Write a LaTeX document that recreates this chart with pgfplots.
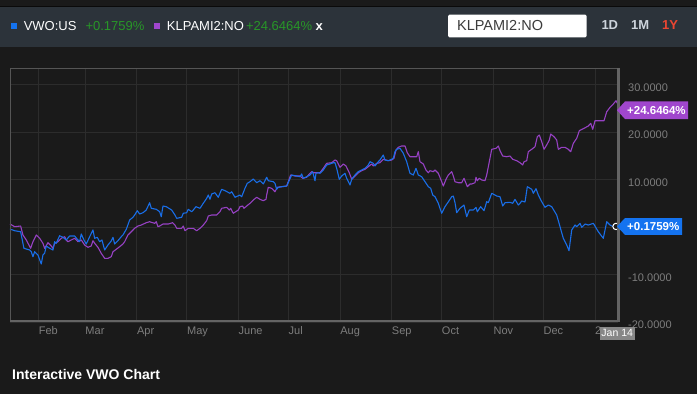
\documentclass[border=0pt]{standalone}
\usepackage{pgfplots}
\pgfplotsset{compat=1.18}
\usepackage{pgfplotstable}
\usepackage{fontspec}
\setmainfont{Liberation Sans}
\definecolor{bg}{RGB}{26,26,26}
\definecolor{barc}{RGB}{44,51,58}
\definecolor{gridc}{RGB}{44,44,44}
\definecolor{tickc}{RGB}{125,125,125}
\definecolor{framec}{RGB}{85,85,85}
\definecolor{botc}{RGB}{100,100,100}
\definecolor{blueline}{RGB}{25,110,232}
\definecolor{purpleline}{RGB}{150,65,195}
\definecolor{bluebox}{RGB}{20,115,240}
\definecolor{purplebox}{RGB}{160,70,205}
\definecolor{greenc}{RGB}{40,150,40}
\definecolor{redc}{RGB}{235,70,50}
\definecolor{btnc}{RGB}{205,212,220}
\definecolor{jangray}{RGB}{135,135,135}
\definecolor{boxtext}{RGB}{60,60,60}

\pgfplotstableread{
day val
13.8 -0.30
14.19 -0.42
16.59 -0.72
20.19 -0.93
22.17 -4.42
25.60 -4.78
26.56 -5.14
27.58 -6.19
28.60 -5.14
30.58 -5.83
32.56 -7.72
33.58 -5.83
34.60 -5.47
35.56 -3.94
37.60 -4.42
39.59 -4.78
40.61 -3.03
41.57 -3.37
43.61 -1.77
45.59 -2.11
47.57 -2.67
49.61 -1.83
52.61 -1.83
54.60 -2.67
55.62 -3.03
56.58 -1.41
58.20 -2.67
59.58 -3.52
61.62 -1.98
63.60 -0.57
64.62 -2.32
66.18 -2.11
67.63 -3.03
69.01 -2.67
70.63 -4.78
72.61 -3.73
74.59 -2.88
75.61 -2.11
76.63 -3.52
78.61 -2.82
80.59 -1.98
81.61 -1.62
83.60 -0.42
85.64 1.54
87.62 2.11
88.64 2.59
90.20 3.49
91.64 2.80
93.62 3.07
95.60 3.64
97.64 5.18
98.61 4.00
101.61 3.79
103.65 3.28
104.61 2.23
105.63 4.48
107.61 4.34
110.85 3.64
112.84 2.59
113.86 1.89
116.86 2.11
117.82 2.95
119.86 3.07
120.82 3.79
122.86 3.28
123.82 3.64
125.44 4.34
127.85 4.00
129.83 5.05
131.87 6.11
132.83 6.80
133.85 5.89
134.87 7.01
136.85 7.28
138.83 6.32
140.87 8.00
142.86 7.71
145.86 7.16
146.88 7.49
148.86 6.32
151.86 6.80
152.88 6.44
154.86 8.21
156.25 9.26
157.87 9.60
159.85 10.17
161.89 9.39
163.87 9.81
165.85 9.12
167.89 10.53
168.85 9.81
171.86 9.60
172.87 9.26
173.90 8.00
174.86 8.42
176.90 8.55
179.90 8.69
182.90 11.01
185.90 10.80
187.89 10.65
188.90 11.22
189.87 10.32
191.91 10.65
193.89 11.01
195.51 11.71
196.89 9.81
197.49 11.37
198.87 11.49
199.89 11.37
201.88 12.06
203.92 13.12
205.89 13.33
207.88 13.60
208.90 13.60
209.92 12.42
211.48 10.11
212.92 10.80
214.90 11.37
215.92 10.32
217.91 8.91
218.93 10.11
220.91 11.01
222.89 11.71
224.93 12.06
226.91 12.42
228.89 13.12
229.91 13.81
231.90 13.47
232.92 12.91
234.90 13.81
235.92 14.17
237.90 15.22
238.92 14.17
240.90 14.02
242.94 14.32
243.90 14.53
244.92 15.92
245.94 16.42
247.93 16.63
249.91 15.58
251.95 13.81
253.93 11.37
255.91 11.01
257.53 12.42
258.92 11.01
260.95 10.65
262.94 9.60
264.92 8.55
266.36 8.21
267.56 6.80
268.94 6.44
270.92 5.05
272.96 2.95
274.94 4.34
277.95 5.89
278.97 6.44
279.93 6.59
280.95 5.18
281.97 3.07
283.95 4.00
286.35 4.69
287.97 2.23
289.54 3.64
291.93 3.64
293.55 4.21
294.33 3.28
296.38 4.34
298.36 3.49
299.98 5.39
300.94 5.18
302.99 7.16
305.98 6.59
307.97 6.44
309.59 4.48
310.97 5.18
313.97 5.26
315.59 5.05
316.97 5.89
318.95 4.69
319.97 5.05
320.99 5.54
322.98 5.33
324.36 8.55
327.00 8.00
327.96 7.16
329.58 8.13
330.96 6.80
333.00 5.39
334.98 4.21
336.97 4.69
339.00 4.34
342.00 2.59
343.99 0.13
345.97 -2.32
348.01 -3.73
349.40 -4.93
351.01 -0.57
352.99 0.48
354.02 0.13
356.00 0.84
357.02 0.00
359.00 0.69
360.98 0.48
363.98 0.84
366.98 -0.93
369.98 -2.32
372.03 1.18
374.01 0.48
375.99 0.13
377.61 0.18
}\vwo

\pgfplotstableread{
day val
13.8 0.70
16.59 0.13
20.19 0.27
21.57 -1.62
23.56 -2.67
26.20 -4.42
27.58 -3.03
29.56 -1.62
31.60 -2.32
33.58 -3.37
34.60 -4.42
36.59 -3.24
38.57 -3.94
39.59 -4.42
40.61 -3.37
42.59 -3.03
44.57 -2.32
46.61 -1.98
47.57 -2.67
48.59 -3.03
50.57 -2.67
52.61 -2.32
54.60 -3.03
56.58 -2.67
58.62 -3.73
60.60 -4.21
62.58 -3.94
63.60 -2.82
64.98 -3.52
66.60 -4.21
68.58 -5.47
70.63 -6.53
72.61 -6.53
74.59 -6.19
75.61 -5.14
77.59 -4.63
79.63 -4.08
81.61 -3.52
82.63 -3.03
84.62 -1.62
86.60 -0.93
88.64 -0.21
90.62 0.27
92.60 0.48
95.60 0.97
97.64 1.18
98.61 1.05
100.65 0.84
101.61 1.18
102.63 0.13
103.65 0.27
105.63 0.69
108.81 0.69
111.45 0.97
112.84 0.48
113.86 -0.21
116.86 -0.21
117.82 0.27
118.84 -0.72
120.82 -0.21
123.82 -0.21
125.86 -0.72
127.85 -0.21
129.83 0.48
131.87 1.39
132.83 2.38
134.87 2.59
137.87 2.59
139.85 3.28
140.87 4.00
143.88 4.21
145.44 3.64
146.28 4.00
147.84 2.95
150.84 3.64
151.86 4.34
153.48 4.48
154.26 4.00
155.88 4.48
157.87 5.05
159.85 5.75
161.89 6.32
163.87 5.89
165.85 5.60
167.47 5.89
167.89 6.80
168.85 8.42
170.89 8.21
172.87 7.49
174.25 8.42
176.90 8.55
179.90 8.69
180.86 9.60
182.30 11.01
184.88 10.80
187.89 10.80
189.51 10.32
191.91 10.53
193.47 11.22
194.91 11.71
195.87 11.49
197.91 11.49
199.89 11.49
201.88 12.42
203.92 13.47
206.92 13.60
208.90 14.17
209.92 14.02
211.90 12.63
213.88 13.33
215.51 12.91
217.48 11.49
218.93 10.11
220.91 10.80
222.89 11.49
224.93 11.92
226.91 12.21
228.89 12.76
230.93 13.33
231.90 12.91
233.94 13.47
235.92 13.60
237.90 14.32
240.90 14.02
242.94 14.17
244.32 14.53
245.52 16.27
246.90 16.84
248.94 17.12
250.93 17.12
252.31 15.70
253.93 14.86
257.95 14.86
258.92 15.92
259.93 13.81
261.92 13.33
263.53 12.06
264.92 11.49
265.94 11.92
267.92 11.71
268.94 12.06
270.92 11.37
272.96 9.60
273.92 8.69
275.54 10.11
276.92 11.01
278.97 11.71
279.93 10.80
280.95 9.60
282.94 9.39
284.98 9.39
286.35 10.32
287.56 9.26
288.35 8.55
289.95 9.12
290.98 9.12
292.96 9.39
293.55 10.53
294.33 9.81
295.53 10.32
296.98 9.96
298.96 9.81
299.98 11.01
301.54 13.81
302.99 16.42
305.56 16.63
306.94 17.12
307.97 16.13
309.59 15.01
311.99 14.86
313.97 15.01
315.59 14.32
317.99 14.02
319.97 13.60
321.59 13.12
322.37 13.81
323.99 14.02
324.96 15.92
327.00 16.42
328.98 16.97
330.36 19.07
331.56 19.43
333.00 18.02
334.39 16.42
336.00 17.33
337.57 18.38
338.41 19.64
340.39 19.07
342.00 18.38
342.97 16.42
345.00 16.84
346.99 16.84
348.97 16.42
350.41 15.92
351.98 17.68
354.02 18.74
355.58 20.34
358.40 20.84
360.98 21.33
362.42 21.89
363.62 20.63
365.00 22.44
368.00 22.44
370.41 22.44
372.03 24.34
374.01 25.26
375.99 25.96
377.61 26.65
378.39 26.11
}\klp

\begin{document}
\begin{tikzpicture}
\begin{scope}[x=1pt,y=1pt]
\fill[bg] (0,0) rectangle (697,394);
\fill[barc] (0,394-46.7) rectangle (697,394-7.3);
\draw[black!60!bg, line width=0.8pt] (0,394-6.7) -- (697,394-6.7);
% legend in top bar
\fill[bluebox] (11.1,394-28.7) rectangle (16.6,394-22.7);
\node[anchor=base west, inner sep=0pt, text=white, font=\fontsize{13}{15}\selectfont] at (23.6,394-30.7) {VWO:US};
\node[anchor=base west, inner sep=0pt, text=greenc, font=\fontsize{13}{15}\selectfont] at (85.3,394-30.7) {+0.1759\%};
\fill[purplebox] (154.2,394-28.7) rectangle (159.9,394-22.7);
\node[anchor=base west, inner sep=0pt, text=white, font=\fontsize{13}{15}\selectfont] at (166.7,394-30.7) {KLPAMI2:NO};
\node[anchor=base west, inner sep=0pt, text=greenc, font=\fontsize{13}{15}\selectfont] at (245.8,394-30.7) {+24.6464\%};
\node[anchor=base west, inner sep=0pt, text=white, font=\bfseries\fontsize{13}{15}\selectfont] at (315.5,394-30.7) {x};
% input box
\fill[white, rounded corners=1.5pt] (448,394-37.3) rectangle (586.7,394-14.7);
\node[anchor=base west, inner sep=0pt, text=boxtext, font=\fontsize{14.5}{16}\selectfont] at (456.9,394-31) {KLPAMI2:NO};
\node[anchor=base west, inner sep=0pt, text=btnc, font=\bfseries\fontsize{13}{15}\selectfont] at (601.3,394-29.5) {1D};
\node[anchor=base west, inner sep=0pt, text=btnc, font=\bfseries\fontsize{13}{15}\selectfont] at (631,394-29.5) {1M};
\node[anchor=base west, inner sep=0pt, text=redc, font=\bfseries\fontsize{13}{15}\selectfont] at (662,394-29.5) {1Y};
% footer title
\node[anchor=base west, inner sep=0pt, text=white, font=\bfseries\fontsize{14}{16}\selectfont] at (12,394-380) {Interactive VWO Chart};
\end{scope}

\begin{axis}[
  at={(10pt,71.7pt)}, anchor=south west,
  scale only axis, width=608pt, height=254.3pt,
  xmin=13.8, xmax=378.8, ymin=-20, ymax=33.54,
  axis line style={draw=none},
  clip=false,
  xtick={31,59,90,120,151,181,212,243,273,304,334,365},
  xticklabels={Feb,Mar,Apr,May,June,Jul,Aug,Sep,Oct,Nov,Dec,2},
  ytick={-20,-10,10,20,30},
  yticklabels={-20.0000,-10.0000,10.0000,20.0000,30.0000},
  extra y ticks={0},
  extra y tick labels={},
  yticklabel pos=right,
  major tick length=0pt,
  grid=major,
  major grid style={gridc, line width=0.9pt},
  xticklabel style={font=\fontsize{11}{13}\selectfont, text=tickc, anchor=north west, inner sep=0pt, yshift=-4.5pt},
  yticklabel style={font=\fontsize{11}{13}\selectfont, text=tickc, anchor=west, inner sep=0pt, xshift=10pt, yshift=-2.5pt},
]
\addplot[purpleline, line width=1.1pt, line join=round] table[x=day, y=val] {\klp};
\addplot[blueline, line width=1.1pt, line join=round] table[x=day, y=val] {\vwo};
\addplot[only marks, mark=*, mark size=3.2pt, mark options={fill=bg, draw=white, line width=1pt}] coordinates {(377.61,0.18)};
\coordinate (bend) at (axis cs:378.8,0.1759);
\coordinate (pend) at (axis cs:378.8,24.6464);
\coordinate (janx) at (axis cs:378.8,-20);
\end{axis}

\begin{scope}[x=1pt,y=1pt]
% frame
\draw[framec, line width=0.8pt] (10,394-321) -- (10,394-68) -- (618.5,394-68);
\draw[botc, line width=2.4pt] (10,394-321.2) -- (620,394-321.2);
\draw[botc, line width=2.4pt] (618.5,394-68) -- (618.5,394-322.4);
% end labels
\fill[bluebox] ([xshift=-1pt]bend) -- ([xshift=7pt,yshift=8.4pt]bend) -- ([xshift=64pt,yshift=8.4pt]bend) -- ([xshift=64pt,yshift=-8.4pt]bend) -- ([xshift=7pt,yshift=-8.4pt]bend) -- cycle;
\node[anchor=west, inner sep=0pt, text=white, font=\bfseries\fontsize{11.5}{13}\selectfont] at ([xshift=9pt]bend) {+0.1759\%};
\fill[purplebox] ([xshift=-1pt]pend) -- ([xshift=7pt,yshift=8.8pt]pend) -- ([xshift=70pt,yshift=8.8pt]pend) -- ([xshift=70pt,yshift=-8.8pt]pend) -- ([xshift=7pt,yshift=-8.8pt]pend) -- cycle;
\node[anchor=west, inner sep=0pt, text=white, font=\bfseries\fontsize{11.5}{13}\selectfont] at ([xshift=9pt]pend) {+24.6464\%};
% Jan 14 box
\fill[jangray] ([xshift=-18pt,yshift=-4.4pt]janx) rectangle ([xshift=16.7pt,yshift=-17.7pt]janx);
\node[anchor=center, inner sep=0pt, text=white, font=\fontsize{10.5}{12}\selectfont] at ([xshift=-0.8pt,yshift=-11.1pt]janx) {Jan 14};
\end{scope}
\pgfresetboundingbox
\path (0,0) rectangle (697pt,394pt);
\end{tikzpicture}
\end{document}
